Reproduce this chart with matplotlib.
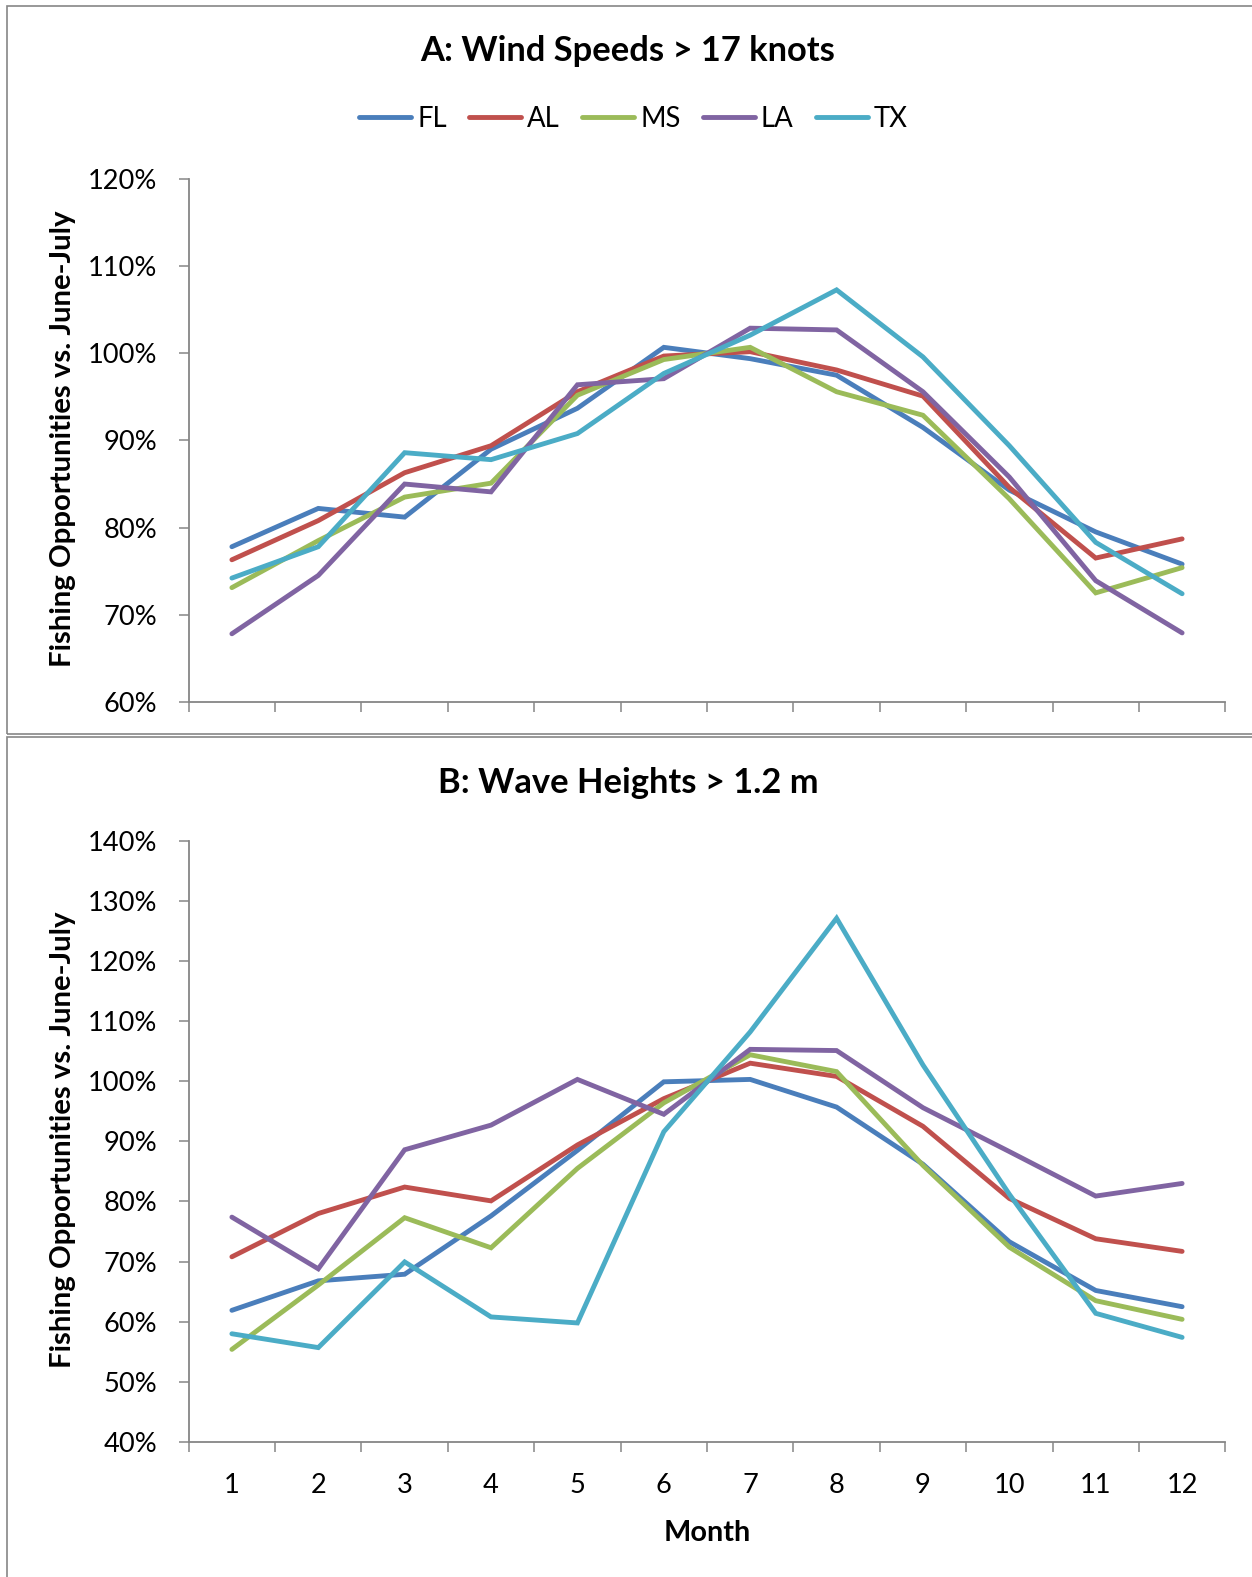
import matplotlib
matplotlib.use('Agg')
import matplotlib.pyplot as plt
from matplotlib.patches import Rectangle
from matplotlib.ticker import FixedLocator, PercentFormatter

plt.rcParams['font.family'] = ['Lato', 'DejaVu Sans']

months = list(range(1, 13))
states = ['FL', 'AL', 'MS', 'LA', 'TX']
colors = ['#4A7EBB', '#C0504D', '#9BBB59', '#8064A2', '#4BACC6']

# panel A: wind speeds > 17 knots (% of June-July)
wind_fl = [77.8, 82.2, 81.2, 89.0, 93.7, 100.7, 99.4, 97.5, 91.5, 84.3, 79.5, 75.8]
wind_al = [76.3, 80.8, 86.3, 89.4, 95.6, 99.7, 100.2, 98.1, 95.1, 84.6, 76.5, 78.7]
wind_ms = [73.1, 78.5, 83.5, 85.1, 95.2, 99.3, 100.7, 95.6, 92.9, 83.3, 72.5, 75.4]
wind_la = [67.8, 74.5, 85.0, 84.1, 96.4, 97.1, 102.9, 102.7, 95.6, 85.8, 73.9, 67.9]
wind_tx = [74.2, 77.8, 88.6, 87.8, 90.8, 97.7, 102.1, 107.3, 99.6, 89.4, 78.3, 72.4]

# panel B: wave heights > 1.2 m
wave_fl = [61.9, 66.8, 67.9, 77.6, 88.5, 99.9, 100.3, 95.7, 86.2, 73.3, 65.2, 62.5]
wave_al = [70.8, 78.0, 82.4, 80.1, 89.4, 97.1, 103.0, 100.8, 92.5, 80.5, 73.8, 71.7]
wave_ms = [55.4, 66.1, 77.3, 72.3, 85.5, 96.4, 104.4, 101.6, 86.0, 72.4, 63.5, 60.4]
wave_la = [77.4, 68.8, 88.6, 92.7, 100.3, 94.5, 105.3, 105.1, 95.6, 88.3, 80.9, 83.0]
wave_tx = [58.0, 55.7, 69.95, 60.8, 59.8, 91.6, 108.2, 127.1, 102.7, 81.2, 61.4, 57.4]

W, H = 1252, 1577
fig = plt.figure(figsize=(W / 100, H / 100), dpi=100)

grey = '#868686'


def fx(px):
    return px / W


def fy(py):
    return 1 - py / H


# panel frames
fig.patches.append(Rectangle((fx(7), fy(733.5)), fx(1260), fy(6) - fy(733.5),
                             transform=fig.transFigure, fill=False, ec=grey, lw=1.2))
fig.patches.append(Rectangle((fx(7), fy(1600)), fx(1260), fy(736.5) - fy(1600),
                             transform=fig.transFigure, fill=False, ec=grey, lw=1.2))

ax1 = fig.add_axes([fx(188.7), fy(701.7), fx(1225.3 - 188.7), (701.7 - 179.3) / H])
ax2 = fig.add_axes([fx(188.7), fy(1442), fx(1225.3 - 188.7), (1442 - 840.7) / H])


def setup(ax, lo, hi, show_x):
    ax.set_xlim(0.5, 12.5)
    ax.set_ylim(lo, hi)
    for s in ['top', 'right']:
        ax.spines[s].set_visible(False)
    for s in ['left', 'bottom']:
        ax.spines[s].set_color(grey)
        ax.spines[s].set_linewidth(1.3)
    ax.yaxis.set_major_locator(FixedLocator(list(range(lo, hi + 1, 10))))
    ax.yaxis.set_major_formatter(PercentFormatter(decimals=0))
    ax.tick_params(axis='y', length=7.2, width=1.1, color=grey, pad=15.5,
                   labelsize=19.6, labelcolor='black')
    ax.xaxis.set_major_locator(FixedLocator(months))
    ax.xaxis.set_minor_locator(FixedLocator([m + 0.5 for m in range(0, 13)]))
    ax.tick_params(axis='x', which='major', length=0, pad=22, labelsize=19.6)
    ax.tick_params(axis='x', which='minor', length=7.2, width=1.1, color=grey)
    if not show_x:
        ax.set_xticklabels([])


def draw(ax, series):
    for name, vals, c in zip(states, series, colors):
        ax.plot(months, vals, color=c, lw=3.5, label=name,
                solid_capstyle='round', solid_joinstyle='miter')


draw(ax1, [wind_fl, wind_al, wind_ms, wind_la, wind_tx])
draw(ax2, [wave_fl, wave_al, wave_ms, wave_la, wave_tx])
setup(ax1, 60, 120, False)
setup(ax2, 40, 140, True)

fig.text(fx(628), fy(61), 'A: Wind Speeds > 17 knots', ha='center', va='baseline',
         fontsize=24.8, fontweight='bold')
fig.text(fx(628), fy(793), 'B: Wave Heights > 1.2 m', ha='center', va='baseline',
         fontsize=24.8, fontweight='bold')

ylab = 'Fishing Opportunities vs. June-July'
fig.text(fx(63), fy(438.5), ylab, rotation=90, ha='center', va='center',
         fontsize=21.2, fontweight='bold')
fig.text(fx(63), fy(1140), ylab, rotation=90, ha='center', va='center',
         fontsize=21.2, fontweight='bold')

fig.text(fx(707), fy(1541), 'Month', ha='center', va='baseline',
         fontsize=20.8, fontweight='bold')

handles, labels = ax1.get_legend_handles_labels()
fig.legend(handles, labels, loc='center', bbox_to_anchor=(fx(633.5), fy(119)), ncol=5,
           frameon=False, fontsize=19.8, handlelength=1.9, handletextpad=0.22,
           columnspacing=0.8, borderpad=0, borderaxespad=0)

fig.savefig('out.png', dpi=100)
